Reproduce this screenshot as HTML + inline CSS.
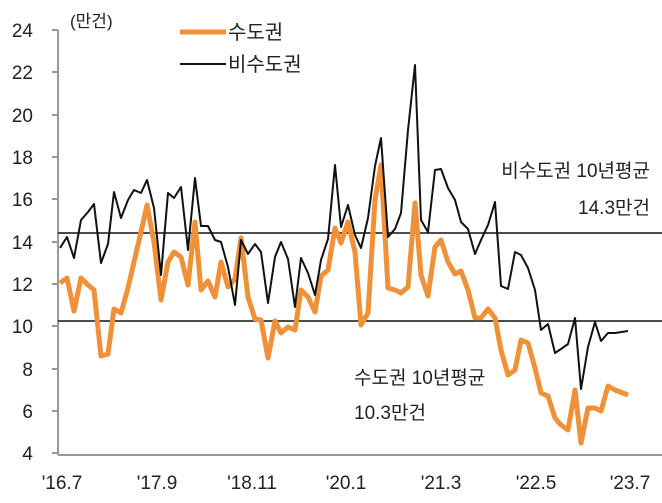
<!DOCTYPE html><html><head><meta charset="utf-8"><style>body{margin:0;background:#fff}svg{display:block}text{font-family:"Liberation Sans","Noto Sans CJK KR",sans-serif;fill:#222}</style></head><body>
<svg width="662" height="503" viewBox="0 0 662 503">
<line x1="58" y1="30" x2="58" y2="455" stroke="#999" stroke-width="2"/>
<line x1="58" y1="455" x2="662" y2="455" stroke="#999" stroke-width="2"/>
<g stroke="#999" stroke-width="2">
<line x1="52" y1="30" x2="58" y2="30"/><line x1="52" y1="72" x2="58" y2="72"/><line x1="52" y1="115" x2="58" y2="115"/><line x1="52" y1="157" x2="58" y2="157"/><line x1="52" y1="199" x2="58" y2="199"/><line x1="52" y1="242" x2="58" y2="242"/><line x1="52" y1="284" x2="58" y2="284"/><line x1="52" y1="326" x2="58" y2="326"/><line x1="52" y1="369" x2="58" y2="369"/><line x1="52" y1="411" x2="58" y2="411"/><line x1="52" y1="453" x2="58" y2="453"/>
</g>
<g font-size="19" text-anchor="end">
<text x="33" y="37">24</text><text x="33" y="79">22</text><text x="33" y="122">20</text><text x="33" y="164">18</text><text x="33" y="206">16</text><text x="33" y="249">14</text><text x="33" y="291">12</text><text x="33" y="333">10</text><text x="33" y="376">8</text><text x="33" y="418">6</text><text x="33" y="460">4</text>
</g>
<g font-size="19" text-anchor="middle">
<text x="62" y="489">'16.7</text><text x="157" y="489">'17.9</text><text x="252" y="489">'18.11</text><text x="346" y="489">'20.1</text><text x="441" y="489">'21.3</text><text x="536" y="489">'22.5</text><text x="630" y="489">'23.7</text>
</g>
<line x1="58" y1="233" x2="662" y2="233" stroke="#111" stroke-width="1.5"/>
<line x1="58" y1="321" x2="662" y2="321" stroke="#111" stroke-width="1.5"/>
<text x="70" y="27" font-size="17">(만건)</text>
<line x1="180" y1="32" x2="226" y2="32" stroke="#f0913a" stroke-width="5"/>
<text x="228" y="39" font-size="20">수도권</text>
<line x1="180" y1="64" x2="226" y2="64" stroke="#111" stroke-width="2"/>
<text x="228" y="71" font-size="20">비수도권</text>
<text x="650" y="177" font-size="19" text-anchor="end">비수도권 10년평균</text>
<text x="650" y="214" font-size="19" text-anchor="end">14.3만건</text>
<text x="354" y="384" font-size="19">수도권 10년평균</text>
<text x="354" y="419" font-size="19">10.3만건</text>
<polyline fill="none" stroke="#f0913a" stroke-width="5" stroke-linejoin="round" points="60,283 67,278 74,311 81,278 88,285 94,290 101,356 108,354 114,309 121,313 128,288 134,262 141,232 147,205 154,242 161,300 168,262 174,252 181,257 188,285 195,222 201,290 208,281 215,297 221,262 228,287 235,279 241,238 248,297 255,319 261,320 268,358 275,321 281,333 288,327 295,330 301,290 308,297 315,312 321,276 328,270 335,228 341,243 348,222 355,252 361,325 368,313 375,200 381,165 388,288 395,290 401,293 408,287 415,203 421,275 428,296 435,247 441,240 448,262 455,274 461,271 468,290 475,318 481,318 488,309 495,318 501,350 508,375 515,370 521,340 528,343 535,368 541,393 548,396 555,418 561,425 568,430 575,390 581,443 588,408 595,408 601,411 608,386 615,390 628,395"/>
<polyline fill="none" stroke="#111" stroke-width="2" stroke-linejoin="round" points="60,248 67,237 74,258 81,220 88,212 94,204 101,263 108,244 114,192 121,218 128,200 134,190 141,193 147,180 154,208 161,275 168,193 174,198 181,187 188,250 195,178 201,226 208,226 215,240 221,242 228,267 235,305 241,240 248,254 255,244 261,252 268,303 275,257 281,242 288,259 295,307 301,258 308,273 315,295 321,260 328,239 335,165 341,227 348,205 355,235 361,248 368,218 375,166 381,138 388,237 395,229 401,213 408,130 415,65 421,220 428,232 435,170 441,169 448,188 455,200 461,222 468,229 475,254 481,240 488,225 495,202 501,286 508,289 515,252 521,255 528,268 535,290 541,330 548,324 555,353 561,349 568,344 575,318 581,389 588,347 595,322 601,341 608,333 615,333 628,331"/>
</svg></body></html>
